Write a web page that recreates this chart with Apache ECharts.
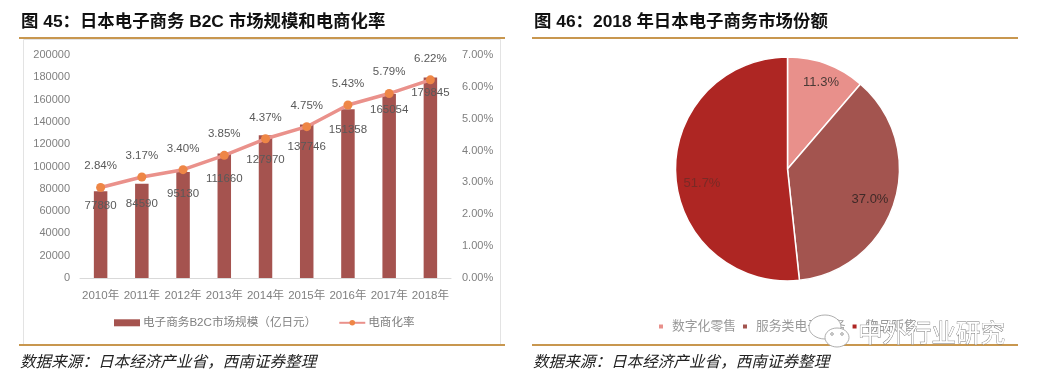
<!DOCTYPE html>
<html>
<head>
<meta charset="utf-8">
<style>html,body{margin:0;padding:0;background:#fff}#c{width:1039px;height:378px}</style>
<script src="https://cdn.jsdelivr.net/npm/echarts@6/dist/echarts.min.js"></script>
</head>
<body>
<div id="c"></div>
<script>
const years = ['2010年','2011年','2012年','2013年','2014年','2015年','2016年','2017年','2018年'];
const marketSize = [77880,84590,95130,111660,127970,137746,151358,165054,179845];
const ecRate = [2.84,3.17,3.40,3.85,4.37,4.75,5.43,5.79,6.22];
const barName = '电子商务B2C市场规模（亿日元）';
const lineName = '电商化率';
const shareNames = ['数字化零售','服务类电子商务','物品贩售'];
const shareValues = [11.3,37.0,51.7];
const leftTitle = '图 45：日本电子商务 B2C 市场规模和电商化率';
const rightTitle = '图 46：2018 年日本电子商务市场份额';
const sourceText = '数据来源：日本经济产业省，西南证券整理';
const watermark = '中外行业研究';

const barLabelDrop = [4,9,11,15,14,12,10,5,5];
const pieLabelPos = [[821,82],[870,199],[702,183]];
const pieColors = ['#e8908b','#a3544f','#ae2623'];
const pieLabelColors = ['#4a3a36','#3f2a28','#7a2a26'];
const gold = '#c8974f';
const gray = '#7f7f7f';
const latin = '"Liberation Sans","Noto Sans CJK SC",sans-serif';

const chart = echarts.init(document.getElementById('c'), null, {renderer:'canvas'});
const hline = (x1,x2,y) => ({type:'line',shape:{x1,y1:y,x2,y2:y},style:{stroke:gold,lineWidth:2},z:5});
const titleStyle = {fill:'#111',font:'bold 17.4px '+latin};
const srcStyle = {fill:'#222',font:'italic 15.6px "Noto Sans CJK SC",sans-serif'};

chart.setOption({
  animation:false,
  backgroundColor:'#fff',
  grid:{left:80,right:588,top:55,bottom:100,containLabel:false},
  xAxis:{type:'category',data:years,
    axisLine:{lineStyle:{color:'#d9d9d9',width:1}},axisTick:{show:false},
    axisLabel:{color:gray,fontSize:11.5,margin:12,interval:0,fontFamily:latin}},
  yAxis:[
    {type:'value',min:0,max:200000,interval:20000,splitLine:{show:false},
     axisLine:{show:false},axisTick:{show:false},
     axisLabel:{color:gray,fontSize:11,margin:10,fontFamily:latin,formatter:v=>String(v)}},
    {type:'value',min:0,max:7,interval:1,splitLine:{show:false},position:'right',
     axisLine:{show:false},axisTick:{show:false},
     axisLabel:{color:gray,fontSize:11,margin:11,fontFamily:latin,formatter:v=>v.toFixed(2)+'%'}}
  ],
  legend:[
    {left:114,top:317,itemWidth:26,itemHeight:7,itemGap:22,padding:0,
     data:[{name:barName,icon:'rect'},{name:lineName}],
     textStyle:{color:gray,fontSize:11.6,padding:[0,0,0,-2],fontFamily:latin}},
    {left:657,top:320,itemWidth:6,itemHeight:6,itemGap:5,padding:0,
     data:shareNames.map(n=>({name:n,icon:'rect'})),
     textStyle:{color:'#999',fontSize:12.8,padding:[0,0,0,3],fontFamily:latin}}
  ],
  series:[
    {type:'bar',name:barName,data:marketSize.map((v,i)=>({value:v,label:{offset:[0,barLabelDrop[i]]}})),
     barWidth:13.5,itemStyle:{color:'#a5534f'},
     label:{show:true,position:'insideTop',distance:5,color:'#595959',fontSize:11.5,fontFamily:latin}},
    {type:'line',name:lineName,yAxisIndex:1,data:ecRate,
     symbol:'circle',symbolSize:9,
     lineStyle:{color:'#ea918b',width:3.5},
     itemStyle:{color:'#ee8646'},
     label:{show:true,position:'top',distance:11,color:'#595959',fontSize:11.5,fontFamily:latin,
       formatter:p=>p.value.toFixed(2)+'%'},
     z:5},
    {type:'pie',center:[787.5,169],radius:[0,112],startAngle:90,clockwise:true,
     data:shareNames.map((n,i)=>({name:n,value:shareValues[i],
       itemStyle:{color:pieColors[i]},label:{color:pieLabelColors[i]}})),
     itemStyle:{borderColor:'#fff',borderWidth:1.5},
     label:{show:true,position:'inside',fontSize:13,fontFamily:latin,
       formatter:p=>p.value.toFixed(1)+'%'},
     labelLayout:p=>({x:pieLabelPos[p.dataIndex][0],y:pieLabelPos[p.dataIndex][1]}),
     labelLine:{show:false},emphasis:{disabled:true}}
  ],
  graphic:{elements:[
    {type:'rect',shape:{x:23.5,y:39.5,width:477,height:305},style:{fill:'none',stroke:'#e3e3e3',lineWidth:1},z:1},
    hline(19,505,38), hline(19,505,345), hline(532,1018,38), hline(532,1018,345),
    {type:'text',x:21,y:14,style:Object.assign({text:leftTitle},titleStyle),z:6},
    {type:'text',x:534,y:14,style:Object.assign({text:rightTitle},titleStyle),z:6},
    {type:'text',x:20,y:353,style:Object.assign({text:sourceText},srcStyle),z:6},
    {type:'text',x:533,y:353,style:Object.assign({text:sourceText},srcStyle),z:6},
    {type:'ellipse',shape:{cx:825,cy:327,rx:16,ry:12},style:{fill:'#fff',stroke:'#999',lineWidth:0.8},z:20},
    {type:'ellipse',shape:{cx:837,cy:337.5,rx:12,ry:9.5},style:{fill:'#fff',stroke:'#999',lineWidth:0.8},z:21},
    {type:'circle',shape:{cx:832,cy:334,r:1.3},style:{fill:'none',stroke:'#888',lineWidth:0.8},z:22},
    {type:'circle',shape:{cx:842,cy:334,r:1.3},style:{fill:'none',stroke:'#888',lineWidth:0.8},z:22},
    {type:'text',x:858,y:320,style:{text:watermark,fill:'#fff',stroke:'#777',lineWidth:0.8,
      font:'24.5px "Noto Sans CJK SC",sans-serif'},z:23}
  ]}
});
</script>
</body>
</html>
